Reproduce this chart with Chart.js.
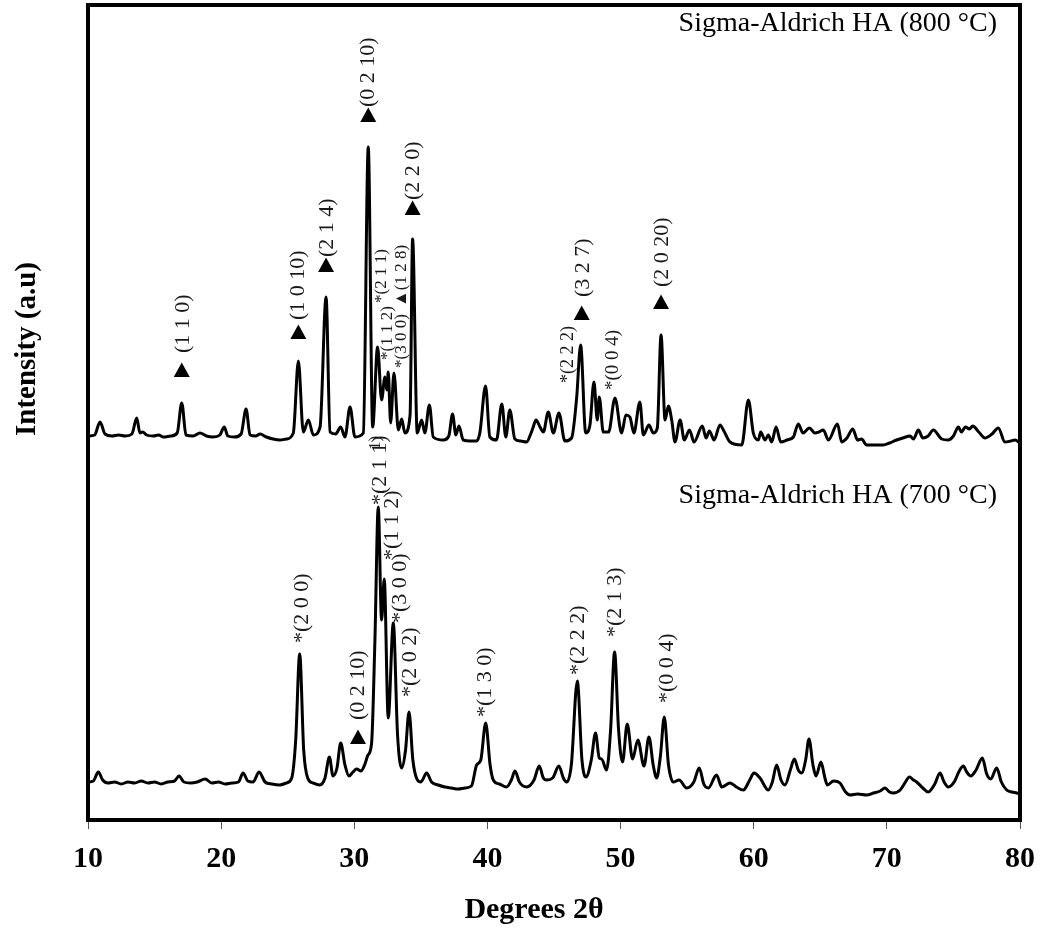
<!DOCTYPE html>
<html lang="en">
<head>
    <meta charset="UTF-8">
    <title>XRD - Sigma-Aldrich HA</title>
    <style>
        body {
            margin: 0;
            padding: 0;
            background-color: #ffffff;
        }
        #xrdChart {
            display: block;
        }
    </style>
</head>
<body>
    <canvas id="xrdChart" width="1047" height="929"></canvas>

    <script src="https://cdn.jsdelivr.net/npm/chart.js"></script>
    <script>
        // Diffraction pattern, 700 °C sample (2θ in degrees, intensity in a.u.)
        const twoTheta700 = [
            10.0, 10.4, 10.78, 11.1, 11.5, 12.0, 12.5, 13.0, 13.5, 14.0, 14.5, 15.0, 15.5, 16.0, 16.5, 16.84,
            17.2, 17.7, 18.2, 18.8, 19.3, 19.8, 20.3, 20.8, 21.3, 21.65, 22.0, 22.4, 22.85, 23.3, 23.8, 24.4,
            24.9, 25.3, 25.6, 25.9, 26.2, 26.5, 26.9, 27.4, 27.8, 28.13, 28.4, 28.7, 28.98, 29.3, 29.6, 29.9,
            30.18, 30.5, 30.8, 31.03, 31.3, 31.55, 31.8, 32.05, 32.25, 32.55, 32.93, 33.25, 33.56, 33.85, 34.11, 34.4,
            34.7, 35.0, 35.44, 35.8, 36.3, 36.8, 37.3, 37.8, 38.3, 38.8, 39.19, 39.5, 39.87, 40.2, 40.44, 40.9,
            41.44, 41.8, 42.07, 42.4, 42.94, 43.5, 43.89, 44.2, 44.45, 44.9, 45.37, 45.7, 45.95, 46.3, 46.75, 47.1,
            47.4, 47.8, 48.12, 48.4, 48.58, 48.95, 49.25, 49.55, 49.85, 50.15, 50.5, 50.9, 51.3, 51.76, 52.13, 52.45,
            52.71, 53.0, 53.28, 53.6, 53.96, 54.4, 54.96, 55.5, 55.91, 56.25, 56.59, 57.21, 57.6, 58.22, 58.7, 59.22,
            59.7, 60.02, 60.47, 61.1, 61.4, 61.72, 62.05, 62.35, 62.75, 63.05, 63.35, 63.6, 63.9, 64.15, 64.45, 64.68,
            65.05, 65.35, 65.53, 66.0, 66.48, 66.9, 67.23, 67.8, 68.48, 69.0, 69.5, 69.86, 70.2, 70.49, 71.0, 71.4,
            71.69, 72.0, 72.24, 72.7, 73.11, 73.6, 73.99, 74.3, 74.61, 75.1, 75.4, 75.74, 76.0, 76.29, 76.7, 77.17,
            77.5, 77.8, 78.25, 78.6, 79.0, 79.4, 79.75, 80.0
        ];
        const intensity700 = [
            38, 39, 48, 40, 37, 38, 36, 38, 37, 39, 37, 38, 36, 38, 39, 44,
            38, 37, 38, 41, 37, 38, 36, 37, 38, 47, 39, 38, 48, 38, 36, 35,
            37, 42, 80, 166, 70, 42, 37, 35, 42, 63, 44, 52, 77, 55, 44, 48,
            51, 49, 56, 65, 77, 180, 313, 200, 241, 102, 197, 85, 52, 70, 108, 60,
            41, 38, 47, 38, 35, 33, 32, 31, 32, 34, 55, 60, 97, 55, 40, 36,
            33, 40, 49, 38, 33, 40, 54, 42, 40, 42, 54, 42, 38, 55, 139, 60,
            43, 60, 87, 62, 61, 50, 90, 168, 90, 58, 96, 61, 80, 54, 83, 55,
            42, 65, 103, 55, 38, 40, 32, 38, 52, 36, 32, 45, 33, 37, 33, 30,
            40, 47, 42, 30, 38, 55, 40, 35, 50, 61, 50, 47, 60, 81, 55, 44,
            58, 42, 35, 39, 37, 28, 25, 26, 25, 27, 29, 32, 28, 27, 30, 38,
            43, 40, 38, 32, 28, 36, 47, 38, 33, 39, 48, 54, 48, 44, 50, 62,
            46, 41, 52, 38, 30, 28, 27, 26
        ];

        // Diffraction pattern, 800 °C sample (stacked above the 700 °C trace)
        const twoTheta800 = [
            10.0, 10.5, 10.9, 11.28, 11.8, 12.3, 12.8, 13.3, 13.66, 13.9, 14.1, 14.4, 14.9, 15.3, 15.66, 16.2,
            16.7, 17.04, 17.36, 17.9, 18.41, 18.9, 19.4, 19.9, 20.24, 20.5, 21.0, 21.5, 21.87, 22.17, 22.6, 22.92,
            23.4, 23.9, 24.42, 24.9, 25.42, 25.8, 26.17, 26.55, 26.93, 27.43, 27.88, 28.18, 28.6, 28.98, 29.3, 29.68,
            30.05, 30.68, 31.05, 31.38, 31.75, 32.05, 32.3, 32.45, 32.55, 32.73, 32.98, 33.31, 33.56, 33.8, 34.19, 34.38,
            34.73, 35.06, 35.3, 35.64, 35.93, 36.68, 37.1, 37.38, 37.63, 37.86, 38.18, 38.7, 39.18, 39.43, 39.86, 40.18,
            40.68, 41.08, 41.38, 41.68, 42.06, 42.5, 42.94, 43.25, 43.44, 43.65, 43.95, 44.2, 44.57, 44.95, 45.37, 45.82,
            46.32, 46.7, 47.0, 47.38, 47.7, 48.0, 48.25, 48.4, 48.7, 49.1, 49.58, 50.08, 50.4, 50.7, 51.0, 51.45,
            51.71, 52.13, 52.46, 52.76, 53.04, 53.34, 53.59, 53.84, 54.09, 54.47, 54.79, 55.17, 55.52, 56.14, 56.42, 56.67,
            57.02, 57.47, 57.72, 58.22, 59.1, 59.6, 59.97, 60.35, 60.52, 60.85, 61.1, 61.35, 61.68, 62.03, 62.5, 62.98,
            63.35, 63.7, 64.18, 64.6, 64.9, 65.23, 65.61, 66.29, 66.61, 67.0, 67.44, 67.8, 68.1, 68.48, 69.1, 69.73,
            70.2, 70.73, 71.2, 71.74, 72.0, 72.37, 72.7, 73.1, 73.49, 74.12, 74.6, 75.0, 75.37, 75.6, 75.9, 76.2,
            76.45, 76.9, 77.37, 77.9, 78.37, 78.87, 79.3, 79.62, 80.0
        ];
        const intensity800 = [
            384, 385, 398, 386, 384, 385, 384, 386, 402, 387, 388, 385, 384, 385, 383, 384,
            387, 417, 385, 384, 387, 384, 383, 385, 393, 384, 383, 386, 411, 385, 384, 386,
            383, 381, 380, 381, 387, 459, 388, 400, 385, 393, 523, 388, 386, 393, 383, 413,
            383, 387, 673, 393, 473, 420, 443, 430, 448, 397, 447, 390, 401, 387, 405, 581,
            387, 400, 387, 415, 383, 380, 384, 406, 385, 394, 380, 379, 379, 387, 434, 383,
            380, 416, 383, 410, 381, 379, 378, 386, 393, 400, 393, 388, 408, 387, 407, 379,
            382, 422, 475, 387, 395, 438, 400, 423, 388, 388, 422, 387, 405, 403, 387, 418,
            385, 395, 387, 392, 485, 400, 414, 400, 378, 400, 380, 390, 378, 394, 382, 389,
            380, 395, 390, 378, 375, 420, 387, 380, 388, 380, 385, 378, 393, 378, 380, 383,
            396, 387, 392, 387, 388, 390, 380, 396, 378, 382, 391, 380, 381, 375, 375, 375,
            377, 380, 382, 384, 381, 390, 382, 384, 390, 381, 380, 384, 393, 388, 393, 391,
            394, 388, 382, 386, 392, 378, 379, 380, 377
        ];

        const xTicks = [10, 20, 30, 40, 50, 60, 70, 80];

        // Miller indices over the 800 °C peaks: text, 2θ, intensity at text start, font size
        const hkl800Text = ['(1 1 0)', '(1 0 10)', '(2 1 4)', '(0 2 10)', '(2 2 0)', '(3 2 7)', '(2 0 20)',
            '*(2 1 1)', '\u25B2(1 2 8)', '*(1 1 2)', '*(3 0 0)', '1)', '*(2 2 2)', '*(0 0 4)'];
        const hkl800At = [17.13, 25.77, 27.95, 31.03, 34.41, 47.18, 53.11,
            32.08, 33.58, 32.46, 33.58, 31.63, 46.05, 49.43];
        const hkl800From = [467, 500, 563, 713, 620, 523, 533,
            517, 513, 460, 452, 370, 437, 430];
        const hkl800Size = [22, 22, 22, 22, 22, 22, 22,
            17, 17, 17, 17, 17, 18, 19];

        // Miller indices over the 700 °C peaks
        const hkl700Text = ['*(2 0 0)', '(0 2 10)', '*(2 1 1)', '*(1 1 2)', '*(3 0 0)', '*(2 0 2)',
            '*(1 3 0)', '*(2 2 2)', '*(2 1 3)', '*(0 0 4)'];
        const hkl700At = [26.07, 30.28, 31.93, 32.83, 33.43, 34.18, 39.82, 46.8, 49.58, 53.49];
        const hkl700From = [177, 100, 315, 260, 197, 123, 103, 145, 183, 117];

        // Filled triangles (▲) marking the second phase
        const triangleAt = [17.04, 25.8, 27.88, 31.05, 34.38, 47.08, 53.04, 30.28];
        const triangleHeight = [450, 488, 555, 705, 612, 507, 518, 83];

        function toPoints(xs, ys) {
            return xs.map((x, i) => ({ x: x, y: ys[i] }));
        }

        function rotatedText(ctx, text, px, py, size) {
            ctx.save();
            ctx.translate(px, py);
            ctx.rotate(-Math.PI / 2);
            ctx.font = size + 'px "Liberation Serif", "Times New Roman", serif';
            ctx.textAlign = 'left';
            ctx.textBaseline = 'middle';
            ctx.fillText(text, 0, 0);
            ctx.restore();
        }

        // Frame, peak labels, markers and titles
        const overlay = {
            id: 'overlay',
            afterDraw(chart) {
                const ctx = chart.ctx;
                const a = chart.chartArea;
                const x = chart.scales.x;
                const y = chart.scales.y;
                ctx.save();

                ctx.lineWidth = 4;
                ctx.strokeStyle = '#000';
                ctx.strokeRect(a.left, a.top, a.right - a.left, a.bottom - a.top);

                ctx.fillStyle = '#000';
                triangleAt.forEach((t, i) => {
                    const px = x.getPixelForValue(t);
                    const py = y.getPixelForValue(triangleHeight[i]);
                    ctx.beginPath();
                    ctx.moveTo(px, py - 7.5);
                    ctx.lineTo(px + 8, py + 7);
                    ctx.lineTo(px - 8, py + 7);
                    ctx.closePath();
                    ctx.fill();
                });

                ctx.fillStyle = '#1a1a1a';
                hkl800Text.forEach((txt, i) => {
                    rotatedText(ctx, txt, x.getPixelForValue(hkl800At[i]), y.getPixelForValue(hkl800From[i]), hkl800Size[i]);
                });
                hkl700Text.forEach((txt, i) => {
                    rotatedText(ctx, txt, x.getPixelForValue(hkl700At[i]), y.getPixelForValue(hkl700From[i]), 22);
                });

                ctx.fillStyle = '#000';
                ctx.font = '28px "Liberation Serif", "Times New Roman", serif';
                ctx.textAlign = 'right';
                ctx.textBaseline = 'middle';
                ctx.fillText('Sigma-Aldrich HA (800 \u00B0C)', 997, 24);
                ctx.fillText('Sigma-Aldrich HA (700 \u00B0C)', 997, 496);

                ctx.font = 'bold 30px "Liberation Serif", "Times New Roman", serif';
                ctx.textAlign = 'center';
                ctx.fillText('Degrees 2\u03B8', 534, 910);

                ctx.save();
                ctx.translate(28, 349);
                ctx.rotate(-Math.PI / 2);
                ctx.font = 'bold 29px "Liberation Serif", "Times New Roman", serif';
                ctx.fillText('Intensity (a.u)', 0, 0);
                ctx.restore();

                ctx.restore();
            }
        };

        const ctx = document.getElementById('xrdChart').getContext('2d');
        const xrdChart = new Chart(ctx, {
            type: 'line',
            data: {
                datasets: [
                    {
                        label: 'Sigma-Aldrich HA (700 °C)',
                        data: toPoints(twoTheta700, intensity700),
                        borderColor: '#000',
                        borderWidth: 3,
                        pointRadius: 0,
                        cubicInterpolationMode: 'monotone',
                        fill: false
                    },
                    {
                        label: 'Sigma-Aldrich HA (800 °C)',
                        data: toPoints(twoTheta800, intensity800),
                        borderColor: '#000',
                        borderWidth: 3,
                        pointRadius: 0,
                        cubicInterpolationMode: 'monotone',
                        fill: false
                    }
                ]
            },
            options: {
                responsive: false,
                animation: false,
                layout: {
                    padding: { left: 0, top: 5, right: 27, bottom: 0 }
                },
                plugins: {
                    legend: { display: false },
                    tooltip: { enabled: false }
                },
                scales: {
                    x: {
                        type: 'linear',
                        min: 10,
                        max: 80,
                        afterBuildTicks: (scale) => {
                            scale.ticks = xTicks.map(v => ({ value: v }));
                        },
                        afterFit: (scale) => {
                            scale.height = 109;
                        },
                        border: { display: false },
                        grid: {
                            drawOnChartArea: false,
                            drawTicks: true,
                            tickLength: 9,
                            tickColor: '#555',
                            lineWidth: 1
                        },
                        ticks: {
                            color: '#000',
                            padding: 12,
                            maxRotation: 0,
                            font: { family: '"Liberation Serif", "Times New Roman", serif', size: 30, weight: 'bold' }
                        }
                    },
                    y: {
                        min: 0,
                        max: 815,
                        afterFit: (scale) => {
                            scale.width = 88;
                        },
                        border: { display: false },
                        grid: { display: false },
                        ticks: { display: false }
                    }
                }
            },
            plugins: [overlay]
        });
    </script>
</body>
</html>
